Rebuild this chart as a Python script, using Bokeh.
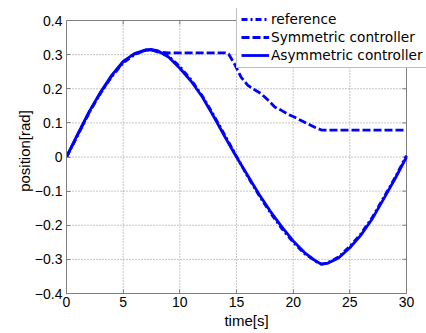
from bokeh.plotting import figure
from bokeh.models import Legend, LegendItem, FixedTicker, Range1d
from bokeh.embed import file_html
from bokeh.resources import INLINE

t_ref = [0, 1, 2, 3, 4, 5, 6, 7, 7.5, 8, 9, 10, 11, 12, 13, 14, 15, 16, 17, 18, 19, 20, 21, 22, 22.5, 23, 24, 25, 26, 27, 28, 29, 30]
reference = [0, 0.064, 0.13, 0.187, 0.236, 0.276, 0.3, 0.313, 0.314, 0.311, 0.296, 0.265, 0.226, 0.178, 0.122, 0.062, 0.002,
             -0.058, -0.113, -0.164, -0.21, -0.25, -0.283, -0.306, -0.314, -0.311, -0.293, -0.262, -0.224, -0.176, -0.118, -0.06, 0.004]
asymmetric = [0, 0.068, 0.133, 0.19, 0.24, 0.28, 0.303, 0.314, 0.315, 0.312, 0.293, 0.26, 0.222, 0.175, 0.118, 0.058, 0.0,
              -0.055, -0.11, -0.16, -0.205, -0.246, -0.28, -0.305, -0.314, -0.312, -0.296, -0.266, -0.228, -0.18, -0.122, -0.063, 0.0]

t_sym = [0, 1, 2, 3, 4, 5, 6, 7, 7.5, 8, 9, 10, 11, 12, 13, 14, 14.3, 14.8, 15.4, 16, 16.6, 17.2, 17.8, 18.4, 19, 19.5,
         20.1, 20.7, 21.3, 21.9, 22.5, 23, 24, 25, 26, 27, 28, 29, 30]
symmetric = [0, 0.066, 0.131, 0.188, 0.238, 0.278, 0.302, 0.313, 0.314, 0.308, 0.305, 0.305, 0.305, 0.305, 0.305, 0.305,
             0.302, 0.274, 0.234, 0.21, 0.197, 0.185, 0.166, 0.146, 0.136, 0.126, 0.117, 0.107, 0.097, 0.087, 0.079,
             0.079, 0.079, 0.079, 0.079, 0.079, 0.079, 0.079, 0.079]

x_ticks = [0, 5, 10, 15, 20, 25, 30]
y_ticks = [-0.4, -0.3, -0.2, -0.1, 0, 0.1, 0.2, 0.3, 0.4]
y_tick_labels = ["\u22120.4", "\u22120.3", "\u22120.2", "\u22120.1", "0", "0.1", "0.2", "0.3", "0.4"]

FONT = "Liberation Sans"
BLUE = "#0000ff"
GRAY = "#7f7f7f"

# layout (pixels): axes box 340 x 273, the frame is enlarged so the legend may overhang the box
W, H = 426, 333
LEFT, BOTTOM = 66, 40
BOX_W, BOX_H = 340, 273
TOP = 8
x0, x1 = x_ticks[0], x_ticks[-1]
y0, y1 = y_ticks[0], y_ticks[-1]
frame_w = W - LEFT
frame_h = H - BOTTOM - TOP
ux = (x1 - x0) / BOX_W   # data units per pixel
uy = (y1 - y0) / BOX_H

p = figure(width=W, height=H, output_backend="svg", toolbar_location=None,
           x_range=Range1d(x0, x0 + ux * frame_w), y_range=Range1d(y0, y0 + uy * frame_h),
           min_border_left=LEFT, min_border_right=0, min_border_top=TOP, min_border_bottom=BOTTOM)
p.outline_line_color = None
p.grid.visible = False

for ax in (p.xaxis[0], p.yaxis[0]):
    ax.axis_line_color = GRAY
    ax.major_tick_line_color = GRAY
    ax.major_tick_in = 4
    ax.major_tick_out = 0
    ax.minor_tick_line_color = None
    ax.major_label_text_font = FONT
    ax.major_label_text_font_size = "14px"
    ax.major_label_text_color = "black"
    ax.axis_label_text_font = FONT
    ax.axis_label_text_font_size = "15px"
    ax.axis_label_text_font_style = "normal"
    ax.axis_label_text_color = "black"

p.xaxis.bounds = (x0, x1)
p.yaxis.bounds = (y0, y1)
p.xaxis.ticker = FixedTicker(ticks=x_ticks)
p.yaxis.ticker = FixedTicker(ticks=y_ticks)
p.yaxis.major_label_overrides = {v: s for v, s in zip(y_ticks, y_tick_labels)}
p.xaxis.axis_label = "time[s]"
p.yaxis.axis_label = "position[rad]"
p.xaxis.major_label_standoff = 3
p.xaxis.axis_label_standoff = 2
p.yaxis.major_label_standoff = 4
p.yaxis.axis_label_standoff = -1

# dotted grid inside the axes box
inner_x = x_ticks[1:-1]
inner_y = y_ticks[1:-1]
p.segment(x0=inner_x, x1=inner_x, y0=[y0] * len(inner_x), y1=[y1] * len(inner_x),
          line_color="#8c8c8c", line_dash="1 2", line_width=1)
p.segment(x0=[x0] * len(inner_y), x1=[x1] * len(inner_y), y0=inner_y, y1=inner_y,
          line_color="#8c8c8c", line_dash="1 2", line_width=1)

# top and right edges of the box with inward ticks
p.segment(x0=[x0, x1], x1=[x1, x1], y0=[y1, y0], y1=[y1, y1], line_color=GRAY, line_width=1)
p.segment(x0=[x1] * len(y_ticks), x1=[x1 - 4 * ux] * len(y_ticks), y0=y_ticks, y1=y_ticks,
          line_color=GRAY, line_width=1)
p.segment(x0=x_ticks, x1=x_ticks, y0=[y1] * len(x_ticks), y1=[y1 - 4 * uy] * len(x_ticks),
          line_color=GRAY, line_width=1)

r_ref = p.line(t_ref, reference, line_color=BLUE, line_width=2.8, line_dash="6 3 2 3")
r_sym = p.line(t_sym, symmetric, line_color=BLUE, line_width=2.8, line_dash="8 3")
r_asym = p.line(t_ref, asymmetric, line_color=BLUE, line_width=2.8)

legend = Legend(items=[LegendItem(label="reference", renderers=[r_ref]),
                       LegendItem(label="Symmetric controller", renderers=[r_sym]),
                       LegendItem(label="Asymmetric controller", renderers=[r_asym])],
                location=(170, frame_h - 60), orientation="vertical")
legend.label_text_font = "DejaVu Sans"
legend.label_text_font_size = "13.7px"
legend.label_text_color = "black"
legend.label_standoff = 2
legend.glyph_width = 28
legend.glyph_height = 16
legend.label_height = 16
legend.spacing = 2
legend.padding = 4
legend.margin = 0
legend.border_line_color = GRAY
legend.border_line_width = 1
legend.background_fill_color = "white"
legend.background_fill_alpha = 1
p.add_layout(legend, "center")

open("out.html", "w").write(file_html(p, INLINE))
